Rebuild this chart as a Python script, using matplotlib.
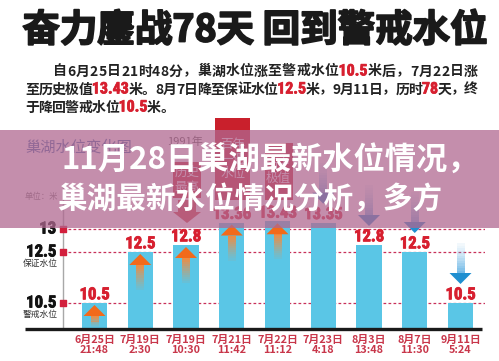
import numpy as np
import matplotlib
matplotlib.use('Agg')
import matplotlib.pyplot as plt
from matplotlib import font_manager
from matplotlib import patheffects as pe
from matplotlib.patches import Rectangle, Polygon
from matplotlib.transforms import IdentityTransform

# ---------------- data ----------------
categories = ['6月25日\n21:48', '7月19日\n2:30', '7月19日\n10:30', '7月21日\n11:42',
              '7月22日\n11:12', '7月23日\n4:18', '8月3日\n13:48', '8月7日\n11:30', '9月11日\n5:24']
water_levels = [10.5, 12.5, 12.8, 13.36, 13.43, 13.35, 12.8, 12.5, 10.5]
trend = ['up', 'up', 'up', 'up', 'up', 'down', 'down', 'down', 'down']
ref_levels = [13.0, 12.5, 10.5]
ref_tick_labels = ['13', '12.5', '10.5']
ref_names = ['', '保证水位', '警戒水位']
callout_bars = [2, 3, 4]
callout_texts = ['历史\n最高', '百年\n一遇\n水位', '历史\n极值']
axis_base = 9.5

title = '奋力鏖战78天 回到警戒水位'
sub_lines = [
    [('自6月25日21时48分，巢湖水位涨至警戒水位', 0), ('10.5', 1), ('米后，7月22日涨', 0)],
    [('至历史极值', 0), ('13.43', 1), ('米。8月7日降至保证水位', 0), ('12.5', 1),
     ('米，9月11日，历时', 0), ('78', 1), ('天，终', 0)],
    [('于降回警戒水位', 0), ('10.5', 1), ('米。', 0)],
]
overlay_lines = ['11月28日巢湖最新水位情况，', '巢湖最新水位情况分析，多方']
chart_title = '巢湖水位变化图'
unit_text = '单位：米'

# ---------------- fonts ----------------
CJK = 'Noto Sans CJK SC'
plt.rcParams['font.family'] = [CJK, 'DejaVu Sans']
names = {f.name for f in font_manager.fontManager.ttflist}
NARROW = next((n for n in ['Liberation Sans Narrow', 'Roboto Condensed', 'DejaVu Sans'] if n in names),
              'DejaVu Sans')

W, H, DPI = 499, 361, 100
fig = plt.figure(figsize=(W / DPI, H / DPI), dpi=DPI)
fig.patch.set_facecolor('white')
ID = IdentityTransform()


def fx(px):
    return px / W


def fy(py):
    return 1 - py / H


# ---------------- chart axes ----------------
ax = fig.add_axes([fx(25), fy(329), 460 / W, 209 / H])
ax.set_facecolor('none')
for s in ax.spines.values():
    s.set_visible(False)

VK = [9.5, 10.5, 12.5, 12.8, 13.0, 13.5, 20.0]
PK = [0, 26, 77, 84, 100, 109, 226]
fwd = lambda v: np.interp(v, VK, PK)
inv = lambda p: np.interp(p, PK, VK)
ax.set_yscale('function', functions=(fwd, inv))
ax.set_ylim(axis_base, float(inv(209)))
step = 45.75
x0, x1 = (25 - 94.5) / step, (485 - 94.5) / step
ax.set_xlim(x0, x1)
ax.set_yticks([])
ax.tick_params(axis='y', left=False, which='both', labelleft=False)

idx = np.arange(len(water_levels))
vals = np.array(water_levels)
ax.bar(idx, vals - axis_base, bottom=axis_base, width=0.55, color='#5ac6e6', zorder=2)

ax.set_xticks(idx, categories)
ax.tick_params(axis='x', length=0, pad=4, labelsize=7.8, labelcolor='#c8364a')
for lbl in ax.get_xticklabels():
    lbl.set_fontweight('bold')
    lbl.set_linespacing(1.02)

# baseline and vertical axis
ax.plot([x0, (482 - 94.5) / step], [axis_base, axis_base], color='#1a1a1a', lw=2.4,
        clip_on=False, solid_capstyle='butt', zorder=3)
xa = (63 - 94.5) / step
ax.plot([xa, xa], [axis_base, float(inv(144))], color='#a8a8a8', lw=1.0, zorder=1)

ax.hlines(ref_levels, xa, x1, colors='#c8305a', linestyles=(0, (2.2, 1.8)), lw=0.9, zorder=1)
ax.scatter([xa] * len(ref_levels), ref_levels, marker='s', s=20, color='#d21f3c', zorder=4,
           clip_on=False)
for lv, lab, nm in zip(ref_levels, ref_tick_labels, ref_names):
    ax.annotate(lab, (xa, lv), xytext=(-5, 0), textcoords='offset points', ha='right',
                va='center', fontsize=12, fontfamily=NARROW, fontweight='bold', color='#111',
                path_effects=[pe.withStroke(linewidth=0.6, foreground='#111')])
    if nm:
        ax.annotate(nm, (xa, lv), xytext=(-4, -8.5), textcoords='offset points', ha='right',
                    va='center', fontsize=6.3, color='#333')

for i, v in zip(idx, vals):
    ax.annotate(f'{v:g}', (i, v), xytext=(0, 0.5), textcoords='offset points', ha='center',
                va='bottom', fontsize=12, fontfamily=NARROW, fontweight='bold', color='#d71f2f',
                zorder=5, path_effects=[pe.withStroke(linewidth=0.6, foreground='#d71f2f')])


# ---------------- arrows ----------------
def arrow(xc, tip, tail, up, head_col, tail_col, z=3, n=12):
    d = 1 if up else -1
    hl, hw, sw = 11, 11, 4
    neck = tip - d * hl
    for k in range(n):
        a = tail + (neck - tail) * k / n
        b = tail + (neck - tail) * (k + 1) / n
        al = 0.05 + 0.9 * ((k + 1) / n) ** 1.3
        fig.add_artist(Rectangle((xc - sw, min(a, b)), 2 * sw, abs(b - a), transform=ID,
                                 fc=tail_col, ec='none', alpha=al, zorder=z))
    fig.add_artist(Polygon([(xc - hw, neck), (xc + hw, neck), (xc, tip)], closed=True,
                           transform=ID, fc=head_col, ec='none', zorder=z))


for i, v, tr in zip(idx, vals, trend):
    px, py = ax.transData.transform((i, v))
    if tr == 'up':
        length = min(36, float(fwd(v)) - 4)
        arrow(px, py - 2, py - 2 - length, True, '#f26a1b', '#f58a3c')
    else:
        arrow(px, py + 19, py + 60, False, '#1f8fd0', '#6fb8e6')

# ---------------- callouts (under overlay) ----------------
callout_geo = {2: (28, 36, 65), 3: (35, 82, 63.5), 4: (28, 57, 50)}
for b, txt in zip(callout_bars, callout_texts):
    px, py = ax.transData.transform((b, vals[b]))
    w, h, off = callout_geo[b]
    cx, cy = px + 1, py + off
    fig.add_artist(Rectangle((cx - w / 2, cy - h / 2), w, h, transform=ID, fc='#c9202c',
                             ec='none', zorder=3))
    fig.text(fx(cx), cy / H, txt, ha='center', va='center', fontsize=9, color='white',
             linespacing=1.15, zorder=3.5)
    if b == 2:
        fig.text(fx(cx - 2), (py + 103) / H, '1991年', ha='center', va='center', fontsize=8,
                 color='#555', zorder=3.5)
        fig.add_artist(Polygon([(cx - 9, py + 45), (cx + 9, py + 45), (cx + 9, py + 33),
                                (cx + 14, py + 33), (cx, py + 22), (cx - 14, py + 33),
                                (cx - 9, py + 33)], closed=True, transform=ID, fc='#d03a3a',
                               ec='none', zorder=3))

fig.text(fx(25), fy(147), chart_title, ha='left', va='center', fontsize=11, color='#3b6aa8',
         zorder=3)
fig.text(fx(25), fy(196), unit_text, ha='left', va='center', fontsize=6, color='#777', zorder=3)

# ---------------- top title and text ----------------
fig.text(fx(255), fy(30), title, ha='center', va='center', fontsize=27, fontweight='bold',
         color='#1a1a1a', path_effects=[pe.withStroke(linewidth=1.3, foreground='#1a1a1a')])

renderer = fig.canvas.get_renderer()


def draw_line(tokens, xs, xe, yb, gap=None):
    objs = []
    for s, red in tokens:
        pieces = [s] if red else list(s)
        for p in pieces:
            kw = {}
            if red:
                kw['path_effects'] = [pe.withStroke(linewidth=0.5, foreground='#d71f2f')]
            t = fig.text(0, 0, p, fontsize=11.5 if red else 10,
                         family=NARROW if red else [CJK, 'DejaVu Sans'],
                         fontweight='bold', color='#d71f2f' if red else '#222',
                         ha='left', va='baseline', **kw)
            objs.append(t)
    widths = [t.get_window_extent(renderer).width for t in objs]
    if gap is None:
        gap = (xe - xs - sum(widths)) / (len(objs) - 1)
    x = xs
    for t, w in zip(objs, widths):
        t.set_position((fx(x), fy(yb)))
        x += w + gap
    return gap


g = draw_line(sub_lines[0], 53, 478, 75.5)
g = draw_line(sub_lines[1], 25, 478, 93.5)
draw_line(sub_lines[2], 25, 478, 111.5, gap=g)

# ---------------- overlay band ----------------
fig.add_artist(Rectangle((0, H - 228), W, 98, transform=ID, fc='#b06890', ec='none',
                         alpha=0.75, zorder=5))
fig.text(fx(61), fy(161), overlay_lines[0], ha='left', va='center', fontsize=22.5,
         fontweight='bold', color='white', zorder=6)
fig.text(fx(57), fy(199), overlay_lines[1], ha='left', va='center', fontsize=21.3,
         fontweight='bold', color='white', zorder=6)

fig.savefig('out.png', dpi=DPI)
